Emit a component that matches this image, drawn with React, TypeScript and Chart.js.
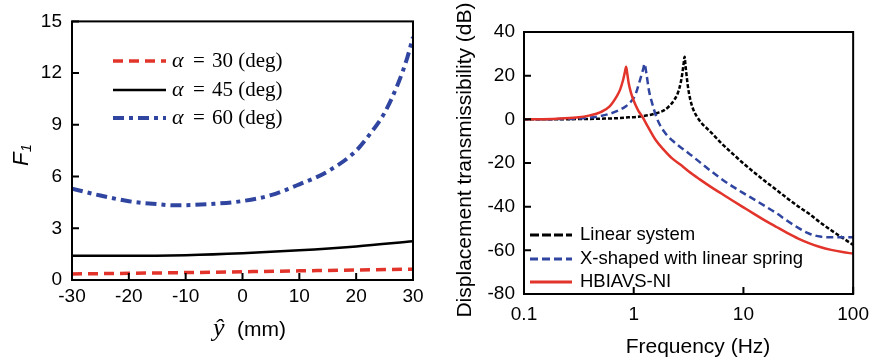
import React, { useEffect, useRef } from "react";
import { Chart, registerables } from "chart.js";
Chart.register(...registerables);

// ---------- Left panel data: F1 vs y-hat ----------
const yHatMm = [-30, -20, -10, 0, 10, 20, 30];
const f1Alpha30 = [0.35, 0.39, 0.43, 0.48, 0.53, 0.58, 0.63];
const f1Alpha45 = [1.4, 1.4, 1.44, 1.55, 1.72, 1.95, 2.25];
const yHatMm60 = [-30, -25, -20, -15, -12, -10, -5, 0, 5, 10, 15, 20, 22.5, 25, 27.5, 29, 30];
const f1Alpha60 = [5.3, 4.9, 4.57, 4.4, 4.33, 4.34, 4.42, 4.58, 4.92, 5.55, 6.3, 7.5, 8.5, 9.7, 11.5, 12.9, 14.1];
const leftXTicks = [-30, -20, -10, 0, 10, 20, 30];
const leftYTicks = [0, 3, 6, 9, 12, 15];
const alphaLabels = ["30", "45", "60"];

// ---------- Right panel data: transmissibility ----------
const linFreq = [0.1, 0.2, 0.3, 0.5, 0.7, 0.9, 1.087, 1.4, 1.64, 1.9, 2.16, 2.35, 2.48, 2.6, 2.7, 2.76, 2.85, 2.91, 2.96, 3.03, 3.12, 3.26, 3.45, 3.75, 4.2, 4.7, 5.3, 6.3, 8, 10, 12.6, 15.8, 20, 25, 31.6, 40, 50, 63, 80, 100];
const linDb = [0, 0.05, 0.1, 0.3, 0.5, 0.9, 1.2, 2.0, 2.9, 4.2, 6.6, 9, 11.1, 14, 17.5, 20.3, 25.5, 28.7, 25, 20.3, 15, 9.6, 5.2, 1.4, -2, -4.4, -7, -11, -15.8, -20.2, -24.4, -28.4, -32.3, -36.1, -39.9, -43.4, -47.2, -50.8, -54.3, -57.5];
const xsFreq = [0.1, 0.2, 0.3, 0.4, 0.5, 0.6, 0.72, 0.85, 0.95, 1.03, 1.08, 1.13, 1.18, 1.22, 1.256, 1.3, 1.383, 1.48, 1.585, 1.73, 1.885, 2.05, 2.24, 2.6, 3.16, 4, 5, 6.3, 8, 10, 12.6, 15.8, 20, 25, 31.6, 40, 50, 63, 100];
const xsDb = [0, 0.1, 0.3, 0.8, 1.5, 2.5, 4, 6, 8.3, 11, 14, 17.3, 20.5, 23, 25.4, 21.5, 12.7, 7, 2, -2.5, -5.5, -7.8, -9.6, -12.3, -15.5, -19.6, -23.5, -27.3, -30.8, -33.8, -36.8, -39.8, -43, -46.4, -49.7, -52.4, -53.7, -54, -54];
const hbFreq = [0.1, 0.2, 0.3, 0.4, 0.5, 0.6, 0.7, 0.75, 0.8, 0.83, 0.853, 0.87, 0.9, 0.946, 1.0, 1.1, 1.205, 1.35, 1.585, 1.9, 2.24, 2.8, 3.16, 4, 5, 6.3, 8, 10, 12.6, 15.8, 20, 25, 31.6, 40, 50, 63, 80, 100];
const hbDb = [0, 0.3, 0.8, 1.8, 3.3, 5.8, 10.5, 13.5, 18, 21.5, 24.1, 21.5, 16.5, 12, 8.5, 4, 1, -3.5, -9.5, -14.2, -17.9, -21.6, -23.8, -27.5, -30.8, -34, -37.3, -40.3, -43.4, -46.4, -49.3, -52, -54.6, -56.8, -58.5, -59.8, -60.8, -61.5];
const freqTicks = [0.1, 1, 10, 100];
const dbTicks = [-80, -60, -40, -20, 0, 20, 40];
const rightLabels = ["Linear system", "X-shaped with linear spring", "HBIAVS-NI"];

const RED = "#E2342A";
const BLUE = "#2F45A0";
const BLACK = "#000000";
const SANS = "'Liberation Sans', Arial, sans-serif";
const SERIF = "'Liberation Serif', 'Times New Roman', serif";

const pts = (xs: number[], ys: number[]) => xs.map((x, i) => ({ x, y: ys[i] }));

function framePlugin(xTicks: number[], yTicks: number[], tickLen: number) {
  return {
    id: "frame",
    afterDatasetsDraw(chart: any) {
      const { ctx, chartArea: a, scales } = chart;
      ctx.save();
      ctx.strokeStyle = "#000";
      ctx.lineWidth = 2;
      ctx.setLineDash([]);
      ctx.strokeRect(a.left, a.top, a.right - a.left, a.bottom - a.top);
      ctx.beginPath();
      for (const v of xTicks) {
        const px = scales.x.getPixelForValue(v);
        ctx.moveTo(px, a.bottom);
        ctx.lineTo(px, a.bottom - tickLen);
      }
      for (const v of yTicks) {
        const py = scales.y.getPixelForValue(v);
        ctx.moveTo(a.left, py);
        ctx.lineTo(a.left + tickLen, py);
      }
      ctx.stroke();
      ctx.restore();
    },
  };
}

const leftDecor = {
  id: "leftDecor",
  afterDraw(chart: any) {
    const { ctx } = chart;
    const ds = chart.data.datasets;
    ctx.save();
    const rows = [61, 90, 118];
    rows.forEach((y, i) => {
      const d = ds[i];
      ctx.beginPath();
      ctx.strokeStyle = d.borderColor;
      ctx.lineWidth = d.borderWidth;
      ctx.setLineDash(d.borderDash || []);
      ctx.moveTo(113, y);
      ctx.lineTo(166, y);
      ctx.stroke();
      ctx.setLineDash([]);
      ctx.fillStyle = "#000";
      ctx.textBaseline = "middle";
      ctx.textAlign = "left";
      ctx.font = `italic 22px ${SERIF}`;
      ctx.fillText("\u03b1", 172, y);
      ctx.font = `21px ${SERIF}`;
      ctx.fillText("=", 193, y);
      ctx.fillText(`${alphaLabels[i]} (deg)`, 212, y);
    });
    ctx.fillStyle = "#000";
    ctx.textBaseline = "alphabetic";
    ctx.font = `italic 26px ${SERIF}`;
    ctx.fillText("\u0177", 213, 336);
    ctx.font = `21px ${SANS}`;
    ctx.fillText("(mm)", 237, 336);
    ctx.translate(28, 157);
    ctx.rotate(-Math.PI / 2);
    ctx.textAlign = "left";
    ctx.font = `italic 22px ${SANS}`;
    ctx.fillText("F", -9, 0);
    ctx.font = `italic 14px ${SANS}`;
    ctx.fillText("1", 5, 3);
    ctx.restore();
  },
};

const rightDecor = {
  id: "rightDecor",
  afterDraw(chart: any) {
    const { ctx } = chart;
    const ds = chart.data.datasets;
    ctx.save();
    const rows = [235, 259, 282];
    const legendDash = [[9, 3], [8, 4], []];
    rows.forEach((y, i) => {
      const d = ds[i];
      ctx.beginPath();
      ctx.strokeStyle = d.borderColor;
      ctx.lineWidth = 3;
      ctx.setLineDash(legendDash[i]);
      ctx.moveTo(90, y);
      ctx.lineTo(132, y);
      ctx.stroke();
      ctx.setLineDash([]);
      ctx.fillStyle = "#000";
      ctx.textBaseline = "middle";
      ctx.textAlign = "left";
      ctx.font = `18.5px ${SANS}`;
      ctx.fillText(rightLabels[i], 140, y);
    });
    ctx.fillStyle = "#000";
    ctx.font = `21px ${SANS}`;
    ctx.textAlign = "center";
    ctx.textBaseline = "middle";
    ctx.fillText("Frequency (Hz)", 258, 347);
    ctx.translate(25, 160);
    ctx.rotate(-Math.PI / 2);
    ctx.fillText("Displacement transmissibility (dB)", 0, 0);
    ctx.restore();
  },
};

const tickFont = { family: SANS, size: 19 };
const noGrid = { display: false, drawTicks: false, tickLength: 0 };

function makeLeft(canvas: HTMLCanvasElement) {
  return new Chart(canvas, {
    type: "line",
    data: {
      datasets: [
        { label: "a30", data: pts(yHatMm, f1Alpha30), borderColor: RED, borderWidth: 3.5, borderDash: [10, 6], pointRadius: 0, cubicInterpolationMode: "monotone", fill: false },
        { label: "a45", data: pts(yHatMm, f1Alpha45), borderColor: BLACK, borderWidth: 2.5, pointRadius: 0, cubicInterpolationMode: "monotone", fill: false },
        { label: "a60", data: pts(yHatMm60, f1Alpha60), borderColor: BLUE, borderWidth: 4, borderDash: [11, 5, 4, 5], pointRadius: 0, cubicInterpolationMode: "monotone", fill: false },
      ] as any,
    },
    options: {
      animation: false,
      responsive: false,
      layout: { padding: { top: 16, right: 27, left: 0, bottom: 0 } },
      plugins: { legend: { display: false }, tooltip: { enabled: false } },
      scales: {
        x: {
          type: "linear", min: -30, max: 30,
          grid: noGrid, border: { display: false },
          ticks: { stepSize: 10, font: tickFont, color: "#000", padding: 5, maxRotation: 0, autoSkip: false },
          afterFit: (s: any) => { s.height = 82; },
        },
        y: {
          type: "linear", min: 0, max: 15,
          grid: noGrid, border: { display: false },
          ticks: { stepSize: 3, font: tickFont, color: "#000", padding: 10 },
          afterFit: (s: any) => { s.width = 72; },
        },
      },
    } as any,
    plugins: [framePlugin(leftXTicks, leftYTicks, 7), leftDecor],
  });
}

function makeRight(canvas: HTMLCanvasElement) {
  return new Chart(canvas, {
    type: "line",
    data: {
      datasets: [
        { label: rightLabels[0], data: pts(linFreq, linDb), borderColor: BLACK, borderWidth: 2.5, borderDash: [4, 2], pointRadius: 0, cubicInterpolationMode: "monotone", fill: false, order: 2 },
        { label: rightLabels[1], data: pts(xsFreq, xsDb), borderColor: BLUE, borderWidth: 2.5, borderDash: [7, 4], pointRadius: 0, cubicInterpolationMode: "monotone", fill: false, order: 1 },
        { label: rightLabels[2], data: pts(hbFreq, hbDb), borderColor: RED, borderWidth: 2.5, pointRadius: 0, cubicInterpolationMode: "monotone", fill: false, order: 0 },
      ] as any,
    },
    options: {
      animation: false,
      responsive: false,
      layout: { padding: { top: 32, right: 19, left: 0, bottom: 0 } },
      plugins: { legend: { display: false }, tooltip: { enabled: false } },
      scales: {
        x: {
          type: "logarithmic", min: 0.1, max: 100,
          grid: noGrid, border: { display: false },
          afterBuildTicks: (s: any) => { s.ticks = freqTicks.map((v) => ({ value: v })); },
          ticks: { font: tickFont, color: "#000", padding: 9, maxRotation: 0, autoSkip: false, callback: (v: any) => String(v) },
          afterFit: (s: any) => { s.height = 68; },
        },
        y: {
          type: "linear", min: -80, max: 40,
          grid: noGrid, border: { display: false },
          ticks: { stepSize: 20, font: tickFont, color: "#000", padding: 9 },
          afterFit: (s: any) => { s.width = 84; },
        },
      },
    } as any,
    plugins: [framePlugin(freqTicks, dbTicks, 7), rightDecor],
  });
}

export default function App() {
  const leftRef = useRef<HTMLCanvasElement>(null);
  const rightRef = useRef<HTMLCanvasElement>(null);
  useEffect(() => {
    const l = makeLeft(leftRef.current!);
    const r = makeRight(rightRef.current!);
    return () => { l.destroy(); r.destroy(); };
  }, []);
  return (
    <div style={{ position: "absolute", left: 0, top: 0, width: 878, height: 362, background: "#fff" }}>
      <canvas ref={leftRef} width={440} height={362} style={{ position: "absolute", left: 0, top: 0, width: 440, height: 362 }} />
      <canvas ref={rightRef} width={438} height={362} style={{ position: "absolute", left: 440, top: 0, width: 438, height: 362 }} />
    </div>
  );
}
